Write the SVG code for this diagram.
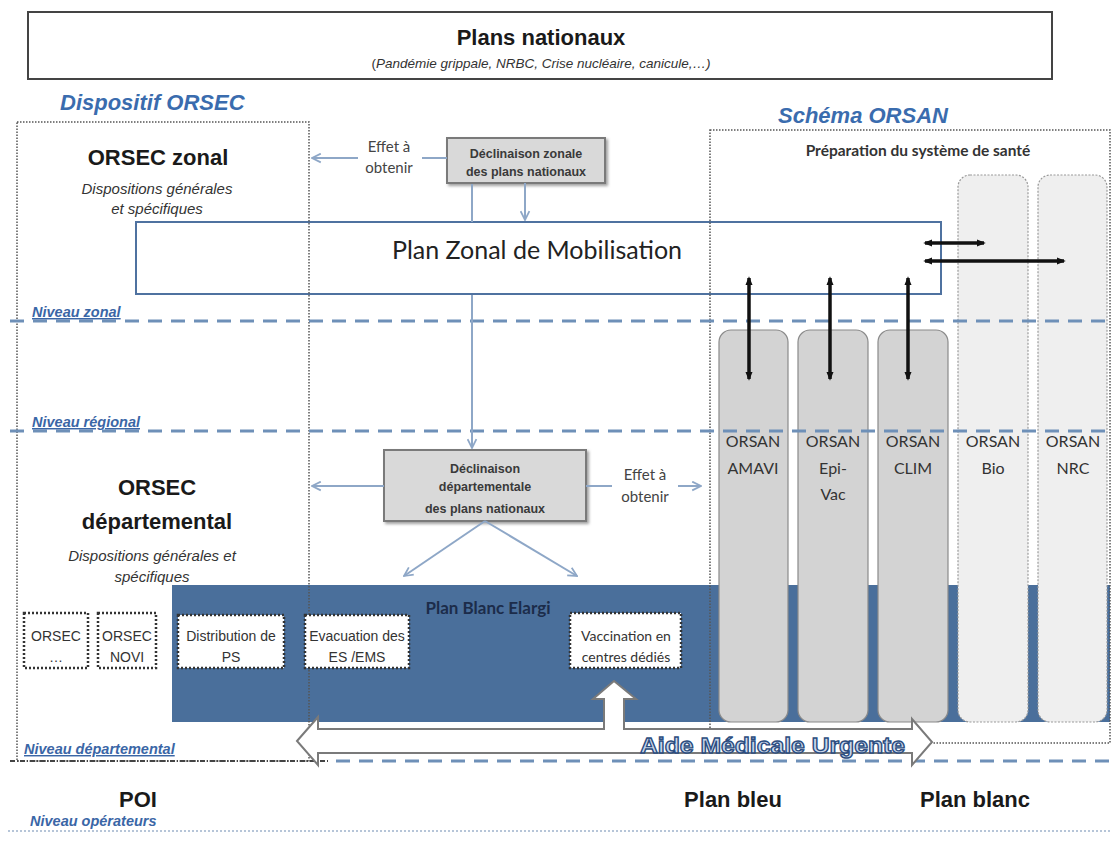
<svg xmlns="http://www.w3.org/2000/svg" width="1112" height="843" viewBox="0 0 1112 843">
<defs>
<style>
.sans{font-family:"Liberation Sans",Arial,sans-serif}
.cal{font-family:Lato,"Open Sans",sans-serif}
.lvl{font-family:"Liberation Sans",Arial,sans-serif;font-weight:bold;font-style:italic;font-size:14.5px;fill:#3a66a6;text-decoration:underline}
.dash{stroke:#6e90b8;stroke-width:3;stroke-dasharray:14 9;fill:none}
.dotbox{fill:none;stroke:#555;stroke-width:1.5;stroke-dasharray:1.5 1.5}
.thin{stroke:#8ea7c7;stroke-width:2;fill:none}
.blk{stroke:#111;stroke-width:3.5;fill:none}
.decl{fill:#d9d9d9;stroke:#7a7a7a;stroke-width:2}
.col{fill:#d3d3d3;stroke:#8a8a8a;stroke-width:1.2}
.colL{fill:#efefef;stroke:#999;stroke-width:1.2;stroke-dasharray:2 1.5}
.sub{fill:#fff;stroke:#333;stroke-width:2.5;stroke-dasharray:2 2}
.big{font-family:"Liberation Sans",Arial,sans-serif;font-weight:bold;font-size:22px;fill:#1a1a1a}
.ital{font-family:"Liberation Sans",Arial,sans-serif;font-style:italic;font-size:15px;fill:#333}
.blue{font-family:"Liberation Sans",Arial,sans-serif;font-weight:bold;font-style:italic;font-size:22px;fill:#3a6cae}
.eff{font-family:Lato,"Open Sans",sans-serif;font-size:15px;fill:#444}
.dtx{font-family:"Liberation Sans",Arial,sans-serif;font-size:12.5px;font-weight:bold;fill:#3a3a3a}
.ors{font-family:Lato,"Open Sans",sans-serif;font-size:16px;fill:#333}
.subt{font-family:"Liberation Sans",Arial,sans-serif;font-size:14px;fill:#333}
</style>
<marker id="va" viewBox="0 0 10 10" refX="9" refY="5" markerWidth="11" markerHeight="11" markerUnits="userSpaceOnUse" orient="auto-start-reverse"><path d="M1,1 L9,5 L1,9" fill="none" stroke="#8ea7c7" stroke-width="1.6"/></marker>
<marker id="ba" viewBox="0 0 10 10" refX="8" refY="5" markerWidth="9" markerHeight="9" markerUnits="userSpaceOnUse" orient="auto-start-reverse"><path d="M0,1 L10,5 L0,9 Z" fill="#111"/></marker>
<filter id="sh" x="-10%" y="-10%" width="130%" height="140%"><feDropShadow dx="2" dy="2" stdDeviation="1.5" flood-color="#777" flood-opacity="0.7"/></filter>
</defs>
<rect x="0" y="0" width="1112" height="843" fill="#fff"/>

<g id="plans-nationaux">
<rect x="28" y="12" width="1024" height="67" fill="#fff" stroke="#444" stroke-width="2"/>
<text x="541" y="45" text-anchor="middle" class="sans" font-weight="bold" font-size="22" fill="#1a1a1a">Plans nationaux</text>
<text x="541" y="68" text-anchor="middle" class="sans" font-size="13.5" fill="#333">(<tspan font-style="italic">Pandémie grippale, NRBC, Crise nucléaire, canicule,…)</tspan></text>
</g>

<g id="blue-band">
<rect x="172" y="585" width="938" height="137" fill="#4a6f9b"/>
</g>

<g id="orsan-columns">
<rect class="col" x="719" y="330" width="69" height="392" rx="12"/>
<rect class="col" x="798" y="330" width="70" height="392" rx="12"/>
<rect class="col" x="878" y="330" width="70" height="392" rx="12"/>
<rect class="colL" x="958" y="175" width="70" height="547" rx="12"/>
<rect class="colL" x="1038" y="175" width="69" height="547" rx="12"/>
<text class="ors" x="753" y="447" text-anchor="middle">ORSAN</text>
<text class="ors" x="753" y="474" text-anchor="middle">AMAVI</text>
<text class="ors" x="833" y="447" text-anchor="middle">ORSAN</text>
<text class="ors" x="833" y="474" text-anchor="middle">Epi-</text>
<text class="ors" x="833" y="500" text-anchor="middle">Vac</text>
<text class="ors" x="913" y="447" text-anchor="middle">ORSAN</text>
<text class="ors" x="913" y="474" text-anchor="middle">CLIM</text>
<text class="ors" x="993" y="447" text-anchor="middle">ORSAN</text>
<text class="ors" x="993" y="474" text-anchor="middle">Bio</text>
<text class="ors" x="1073" y="447" text-anchor="middle">ORSAN</text>
<text class="ors" x="1073" y="474" text-anchor="middle">NRC</text>
</g>

<g id="plan-zonal">
<rect x="136" y="222" width="805" height="72" fill="#fff" stroke="#4f72a0" stroke-width="2"/>
<text x="537" y="259" text-anchor="middle" class="cal" font-size="25" fill="#222">Plan Zonal de Mobilisation</text>
</g>

<g id="dispositif-orsec">
<text class="blue" x="60" y="110">Dispositif ORSEC</text>
<rect class="dotbox" x="17" y="122" width="292" height="639"/>
<text class="big" x="158" y="165" text-anchor="middle">ORSEC zonal</text>
<text class="ital" x="157" y="194" text-anchor="middle">Dispositions générales</text>
<text class="ital" x="157" y="214" text-anchor="middle">et spécifiques</text>
<text class="big" x="157" y="495" text-anchor="middle">ORSEC</text>
<text class="big" x="157" y="529" text-anchor="middle">départemental</text>
<text class="ital" x="152" y="561" text-anchor="middle">Dispositions générales et</text>
<text class="ital" x="152" y="582" text-anchor="middle">spécifiques</text>
</g>

<g id="schema-orsan">
<text class="blue" x="778" y="123">Schéma ORSAN</text>
<rect class="dotbox" x="710" y="130" width="400" height="613"/>
<text x="918" y="156" text-anchor="middle" class="cal" font-weight="bold" font-size="15.5" fill="#333">Préparation du système de santé</text>
</g>

<g id="sub-boxes">
<rect class="sub" x="24" y="613" width="64" height="55"/>
<text class="subt" x="56" y="641" text-anchor="middle">ORSEC</text>
<text class="subt" x="56" y="662" text-anchor="middle">…</text>
<rect class="sub" x="98" y="613" width="58" height="55"/>
<text class="subt" x="127" y="641" text-anchor="middle">ORSEC</text>
<text class="subt" x="127" y="662" text-anchor="middle">NOVI</text>
<rect class="sub" x="178" y="615" width="106" height="53"/>
<text class="subt" x="231" y="641" text-anchor="middle">Distribution de</text>
<text class="subt" x="231" y="662" text-anchor="middle">PS</text>
<rect class="sub" x="305" y="615" width="104" height="53"/>
<text class="subt" x="357" y="641" text-anchor="middle">Evacuation des</text>
<text class="subt" x="357" y="662" text-anchor="middle">ES /EMS</text>
<rect class="sub" x="570" y="613" width="111" height="55"/>
<text x="626" y="641" text-anchor="middle" class="cal" font-size="14" fill="#333">Vaccination en</text>
<text x="626" y="662" text-anchor="middle" class="cal" font-size="14" fill="#333">centres dédiés</text>
<text x="488" y="614" text-anchor="middle" class="cal" font-weight="bold" font-size="17" fill="#1c2c4a">Plan Blanc Elargi</text>
</g>

<g id="levels">
<path class="dash" d="M10,321 H1112"/>
<path class="dash" d="M10,431 H1112"/>
<path d="M10,761 H330" stroke="#444" stroke-width="2" stroke-dasharray="5 2 1 2" fill="none"/>
<path class="dash" d="M336,761 H1112"/>
<path d="M8,831 H1112" stroke="#9fb3cc" stroke-width="1.5" stroke-dasharray="2 2" fill="none"/>
<text class="lvl" x="32" y="317">Niveau zonal</text>
<text class="lvl" x="32" y="427">Niveau régional</text>
<text class="lvl" x="24" y="754">Niveau départemental</text>
<text class="lvl" x="30" y="826" style="text-decoration:none">Niveau  opérateurs</text>
</g>

<g id="decl-zonale">
<rect class="decl" x="447" y="138" width="158" height="45" filter="url(#sh)"/>
<text class="dtx" x="526" y="158" text-anchor="middle">Déclinaison zonale</text>
<text class="dtx" x="526" y="176" text-anchor="middle">des plans nationaux</text>
</g>

<g id="decl-departementale">
<rect class="decl" x="384" y="450" width="202" height="71" filter="url(#sh)"/>
<text class="dtx" x="485" y="473" text-anchor="middle">Déclinaison</text>
<text class="dtx" x="485" y="491" text-anchor="middle">départementale</text>
<text class="dtx" x="485" y="513" text-anchor="middle">des plans nationaux</text>
</g>

<g id="connectors">
<path class="thin" d="M447,158 H312" marker-end="url(#va)"/>
<path class="thin" d="M472,184 V222"/>
<path class="thin" d="M472,295 V448" marker-end="url(#va)"/>
<path class="thin" d="M525,183 V220" marker-end="url(#va)"/>
<path class="thin" d="M384,486 H312" marker-end="url(#va)"/>
<path class="thin" d="M586,486 H701" marker-end="url(#va)"/>
<path class="thin" d="M485,521 L404,576" marker-end="url(#va)"/>
<path class="thin" d="M485,521 L577,576" marker-end="url(#va)"/>
<path class="blk" d="M749,278 V379" marker-start="url(#ba)" marker-end="url(#ba)"/>
<path class="blk" d="M830,278 V379" marker-start="url(#ba)" marker-end="url(#ba)"/>
<path class="blk" d="M908,278 V379" marker-start="url(#ba)" marker-end="url(#ba)"/>
<path class="blk" d="M925,243 H984" marker-start="url(#ba)" marker-end="url(#ba)"/>
<path class="blk" d="M925,261 H1064" marker-start="url(#ba)" marker-end="url(#ba)"/>
<polygon points="297,741 318,717 318,729 604,729 604,699 593,699 614,681 636,699 624,699 624,729 912,729 912,719 932,742 912,765 912,753 318,753 318,765" fill="#fff" stroke="#7a7a7a" stroke-width="2"/>
<rect x="358" y="138" width="64" height="40" fill="#fff"/>
<text class="eff" x="389" y="152" text-anchor="middle">Effet à</text>
<text class="eff" x="389" y="173" text-anchor="middle">obtenir</text>
<rect x="612" y="468" width="66" height="40" fill="#fff"/>
<text class="eff" x="645" y="480" text-anchor="middle">Effet à</text>
<text class="eff" x="645" y="502" text-anchor="middle">obtenir</text>
</g>

<g id="amu">
<text x="640" y="753" class="sans" font-weight="bold" font-size="22" textLength="265" lengthAdjust="spacingAndGlyphs" fill="#c9d8ec" stroke="#2c4d80" stroke-width="1.3">Aide Médicale Urgente</text>
</g>

<g id="operateurs">
<text class="big" x="138" y="807" text-anchor="middle">POI</text>
<text class="big" x="733" y="807" text-anchor="middle">Plan bleu</text>
<text class="big" x="975" y="807" text-anchor="middle">Plan blanc</text>
</g>
</svg>
